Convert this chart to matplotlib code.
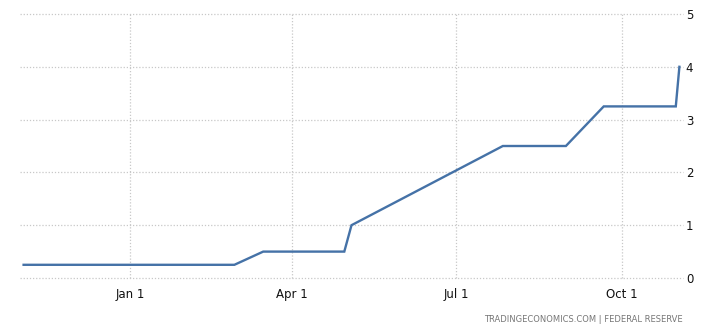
import matplotlib
matplotlib.use("Agg")
import matplotlib.dates as mdates
import matplotlib.pyplot as plt
import pandas as pd

# Fed funds target rate (upper bound)
dates = ["2021-11-03", "2021-12-15", "2022-01-26", "2022-02-28", "2022-03-16",
         "2022-04-30", "2022-05-04", "2022-07-27", "2022-08-31", "2022-09-21",
         "2022-10-31", "2022-11-02"]
rates = [0.25, 0.25, 0.25, 0.25, 0.5, 0.5, 1.0, 2.5, 2.5, 3.25, 3.25, 4.0]
x_ticks = ["2022-01-01", "2022-04-01", "2022-07-01", "2022-10-01"]
x_labels = ["Jan 1", "Apr 1", "Jul 1", "Oct 1"]
y_ticks = [0, 1, 2, 3, 4, 5]

plt.rcParams.update({"font.family": "DejaVu Sans"})

fig = plt.figure(figsize=(7.16, 3.32), dpi=100)
ax = fig.add_axes([20 / 716, 1 - 278 / 332, 663 / 716, 264 / 332])

ax.plot(pd.to_datetime(dates), rates, color="#4572a7", linewidth=1.7,
        solid_joinstyle="miter")

ax.set_xlim(pd.Timestamp("2021-11-01"), pd.Timestamp("2022-11-04"))
ax.set_ylim(0, 5)

ax.set_xticks(pd.to_datetime(x_ticks))
ax.set_xticklabels(x_labels)
ax.set_yticks(y_ticks)
ax.yaxis.tick_right()

for s in ax.spines.values():
    s.set_visible(False)
ax.tick_params(axis="both", length=0, labelsize=8.5, colors="#111111")
ax.tick_params(axis="x", pad=7)
ax.tick_params(axis="y", pad=2)

ax.grid(True, color="#c8c8c8", linestyle=(0, (1, 1.5)), linewidth=0.9)
for gl in ax.get_xgridlines() + ax.get_ygridlines():
    gl.set_clip_on(False)
ax.set_axisbelow(True)

fig.text(683 / 716, 1 - 320 / 332, "TRADINGECONOMICS.COM | FEDERAL RESERVE",
         ha="right", va="center", fontsize=6.0, color="#777777")

fig.savefig("out.png", dpi=100, facecolor="white")
